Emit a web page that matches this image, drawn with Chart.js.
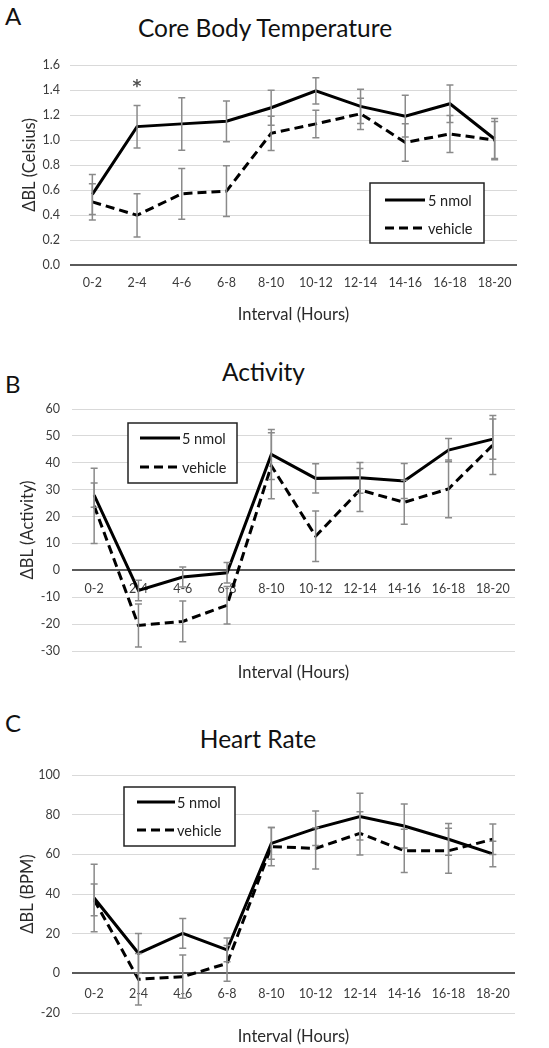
<!DOCTYPE html>
<html><head><meta charset="utf-8">
<script src="https://cdn.jsdelivr.net/npm/chart.js@4.4.1/dist/chart.umd.min.js"></script>
<style>
body{margin:0;background:#fff;width:549px;height:1048px;position:relative;overflow:hidden;font-family:Lato,sans-serif;}
.letter{position:absolute;font-size:24px;line-height:1;color:#111;left:5px;}
.ttl{position:absolute;font-size:24.5px;line-height:1;color:#111;text-align:center;width:300px;white-space:nowrap;}
canvas{position:absolute;left:0;}
</style></head><body>
<div class="letter" style="top:4px">A</div>
<div class="ttl" style="left:115px;top:15.5px">Core Body Temperature</div>
<canvas id="cA" width="549" height="330" style="top:0px"></canvas>
<div class="letter" style="top:372px">B</div>
<div class="ttl" style="left:113.5px;top:359.5px">Activity</div>
<canvas id="cB" width="549" height="360" style="top:330px"></canvas>
<div class="letter" style="top:711px">C</div>
<div class="ttl" style="left:108px;top:726.5px">Heart Rate</div>
<canvas id="cC" width="549" height="348" style="top:700px"></canvas>
<script>
const categories = ['0-2','2-4','4-6','6-8','8-10','10-12','12-14','14-16','16-18','18-20'];
const seriesNames = ['5 nmol','vehicle'];

const tempNmol = [0.565,1.107,1.129,1.15,1.258,1.394,1.269,1.191,1.29,1.008];
const tempNmolErr = [0.16,0.17,0.21,0.163,0.14,0.105,0.137,0.167,0.15,0.165];
const tempVehicle = [0.505,0.398,0.57,0.591,1.054,1.129,1.21,0.981,1.048,1.0];
const tempVehicleErr = [0.145,0.173,0.203,0.203,0.137,0.11,0.125,0.15,0.148,0.148];
const tempStars = ['','*','','','','','','','',''];

const actNmol = [28,-7.5,-2.5,-0.9,43.1,34.2,34.4,33.2,44.7,48.8];
const actNmolErr = [4.5,3.8,3.7,3.8,9.3,5.4,5.7,6.5,4.3,7.5];
const actVehicle = [24,-20.5,-19,-13,38.9,12.7,29.9,25.3,30.3,46.6];
const actVehicleErr = [14,8,7.6,7,12.3,9.4,8,8.2,10.7,11];

const hrNmol = [38,10.1,20.2,11.8,65.5,73.1,79,74.3,67.6,60.2];
const hrNmolErr = [17,10,7.5,6,8,8.7,11.8,11.1,8,6.4];
const hrVehicle = [37,-3,-1.7,5,63.9,63,70.6,61.8,61.8,67.6];
const hrVehicleErr = [8,13,10.9,9,9.6,10.4,10.9,10.9,11.4,7.7];

const FONT = 'Lato, sans-serif';
const tickColor = '#3c3c3c';
const axisTitleColor = '#2a2a2a';

const errorBarPlugin = {
  id: 'errorBars',
  afterDatasetsDraw(chart) {
    const {ctx} = chart;
    const ys = chart.scales.y;
    ctx.save();
    ctx.strokeStyle = '#8a8a8a';
    ctx.lineWidth = 1.5;
    chart.data.datasets.forEach((ds, i) => {
      const meta = chart.getDatasetMeta(i);
      meta.data.forEach((pt, j) => {
        const v = ds.data[j], e = ds.errors[j];
        const yt = ys.getPixelForValue(v + e), yb = ys.getPixelForValue(v - e);
        const x = pt.x;
        ctx.beginPath();
        ctx.moveTo(x, yt); ctx.lineTo(x, yb);
        ctx.moveTo(x - 3.5, yt); ctx.lineTo(x + 3.5, yt);
        ctx.moveTo(x - 3.5, yb); ctx.lineTo(x + 3.5, yb);
        ctx.stroke();
      });
      if (ds.stars) {
        ctx.fillStyle = '#505050';
        ctx.font = 'bold 17px "DejaVu Sans", sans-serif';
        ctx.textAlign = 'center';
        ctx.textBaseline = 'alphabetic';
        ds.stars.forEach((s, j) => {
          if (!s) return;
          const x = meta.data[j].x;
          const y = ys.getPixelForValue(ds.data[j] + ds.errors[j]) - 13;
          ctx.fillText(s, x, y);
        });
      }
    });
    ctx.restore();
  }
};

const boxLegendPlugin = {
  id: 'boxLegend',
  afterDraw(chart, args, o) {
    if (!o || o.x === undefined) return;
    const {ctx} = chart;
    ctx.save();
    ctx.fillStyle = '#fff';
    ctx.fillRect(o.x, o.y, o.w, o.h);
    ctx.strokeStyle = '#222';
    ctx.lineWidth = 1.5;
    ctx.strokeRect(o.x, o.y, o.w, o.h);
    chart.data.datasets.forEach((ds, i) => {
      const ly = o.y + o.rows[i];
      ctx.strokeStyle = ds.borderColor;
      ctx.lineWidth = ds.borderWidth;
      ctx.setLineDash(ds.borderDash || []);
      ctx.beginPath();
      ctx.moveTo(o.x + o.lineX0, ly);
      ctx.lineTo(o.x + o.lineX1, ly);
      ctx.stroke();
      ctx.setLineDash([]);
      ctx.fillStyle = '#222';
      ctx.font = '14.5px ' + FONT;
      ctx.textAlign = 'left';
      ctx.textBaseline = 'middle';
      ctx.fillText(ds.label, o.x + o.textX, ly + 1);
    });
    ctx.restore();
  }
};

function makeChart(id, c) {
  const scales = {
    x: {
      type: 'category', labels: categories, offset: true,
      grid: {display: false, drawTicks: false}, border: {display: false},
      ticks: {display: !c.axisAtZero, padding: 10, color: tickColor, font: {family: FONT, size: 12.5}, maxRotation: 0, autoSkip: false},
      title: {display: true, text: 'Interval (Hours)', color: axisTitleColor, font: {family: FONT, size: 16.5}, padding: {top: 0, bottom: c.xTitlePad}},
      afterFit(s) { s.height = c.xAxisH; }
    },
    y: {
      min: c.min, max: c.max,
      ticks: {stepSize: c.step, padding: c.yTickPad, color: tickColor, font: {family: FONT, size: 12.5},
        callback: c.fmt},
      grid: {
        color: (ctx) => (ctx.tick && ctx.tick.value === 0) ? '#5a5a5a' : '#d9d9d9',
        lineWidth: (ctx) => (ctx.tick && ctx.tick.value === 0) ? 2 : 1,
        drawTicks: false
      },
      border: {display: false},
      title: {display: true, text: c.yTitle, color: axisTitleColor, font: {family: FONT, size: 16.5}, padding: {top: c.yTitlePad, bottom: 0}},
      afterFit(s) { s.width = c.yAxisW; }
    }
  };
  if (c.axisAtZero) {
    scales.xLabels = {
      type: 'category', axis: 'x', labels: categories, offset: true, position: {y: 0},
      grid: {display: false, drawTicks: false}, border: {display: false},
      ticks: {padding: c.zeroTickPad, color: tickColor, font: {family: FONT, size: 12.5}, maxRotation: 0, autoSkip: false}
    };
  }
  return new Chart(document.getElementById(id), {
    type: 'line',
    data: {
      labels: categories,
      datasets: [
        {label: seriesNames[0], data: c.s1, errors: c.e1, stars: c.stars || null, borderColor: '#000', borderWidth: 3, pointRadius: 0, tension: 0, fill: false, xAxisID: 'x', yAxisID: 'y'},
        {label: seriesNames[1], data: c.s2, errors: c.e2, borderColor: '#000', borderWidth: 3, borderDash: [9, 5], pointRadius: 0, tension: 0, fill: false, xAxisID: 'x', yAxisID: 'y'}
      ]
    },
    options: {
      responsive: false, animation: false, devicePixelRatio: 1,
      layout: {padding: {top: c.padTop, right: c.padRight, left: 0, bottom: 0}},
      plugins: {legend: {display: false}, tooltip: {enabled: false}, title: {display: false}, boxLegend: c.legend},
      scales
    },
    plugins: [errorBarPlugin, boxLegendPlugin]
  });
}

makeChart('cA', {
  s1: tempNmol, e1: tempNmolErr, s2: tempVehicle, e2: tempVehicleErr, stars: tempStars,
  min: 0, max: 1.6, step: 0.2, fmt: (v) => Number(v).toFixed(1),
  yTitle: 'ΔBL (Celsius)', yAxisW: 70, yTickPad: 10, yTitlePad: 20,
  xAxisH: 65, xTitlePad: 5, padTop: 65, padRight: 32, axisAtZero: false,
  legend: {x: 370, y: 183, w: 114, h: 60, rows: [17, 45], lineX0: 15, lineX1: 55, textX: 58}
});
makeChart('cB', {
  s1: actNmol, e1: actNmolErr, s2: actVehicle, e2: actVehicleErr,
  min: -30, max: 60, step: 10, fmt: (v) => String(v),
  yTitle: 'ΔBL (Activity)', yAxisW: 72, yTickPad: 12, yTitlePad: 18,
  xAxisH: 39, xTitlePad: 7, padTop: 79, padRight: 34, axisAtZero: true, zeroTickPad: 11,
  legend: {x: 128, y: 93, w: 109, h: 60, rows: [15, 44], lineX0: 12, lineX1: 52, textX: 54}
});
makeChart('cC', {
  s1: hrNmol, e1: hrNmolErr, s2: hrVehicle, e2: hrVehicleErr,
  min: -20, max: 100, step: 20, fmt: (v) => String(v),
  yTitle: 'ΔBL (BPM)', yAxisW: 72, yTickPad: 12, yTitlePad: 18,
  xAxisH: 35, xTitlePad: 1, padTop: 75, padRight: 34, axisAtZero: true, zeroTickPad: 13,
  legend: {x: 124, y: 87, w: 111, h: 59, rows: [15, 43], lineX0: 13, lineX1: 51, textX: 53}
});
</script>
</body></html>
